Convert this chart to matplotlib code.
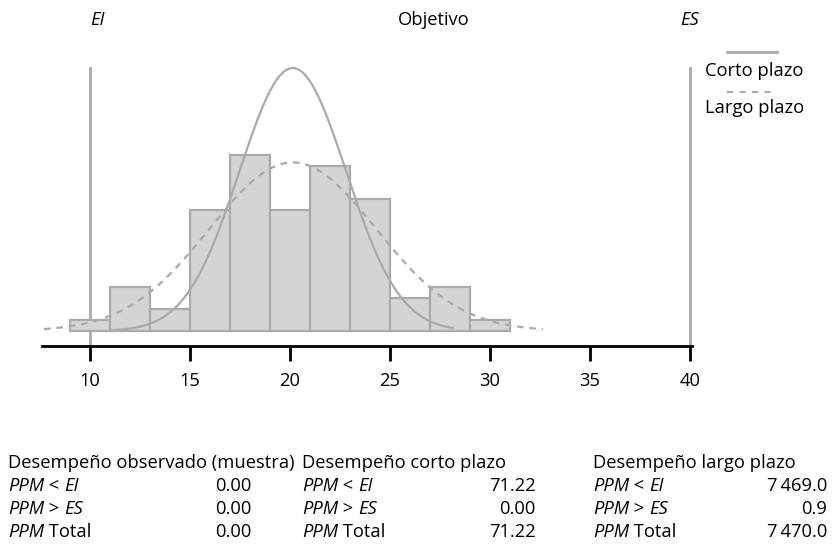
import numpy as np
import matplotlib.pyplot as plt
from matplotlib import offsetbox

# histogram data (bins of width 2, from 9 to 31)
bin_edges = [9, 11, 13, 15, 17, 19, 21, 23, 25, 27, 29, 31]
counts = [1, 4, 2, 11, 16, 11, 15, 12, 3, 4, 1]

# specification limits and fitted normal parameters
ei, es = 10, 40
mean = 20.14
sigma_short = 2.67
sigma_long = 4.166
short_range = (11.0, 28.15)
long_range = (7.7, 32.65)

ticks = [10, 15, 20, 25, 30, 35, 40]

# table at the bottom
headers = ["Desempeño observado (muestra)", "Desempeño corto plazo", "Desempeño largo plazo"]
row_labels = [("PPM", " < ", "EI"), ("PPM", " > ", "ES"), ("PPM", " Total", "")]
obs_vals = ["0.00", "0.00", "0.00"]
short_vals = ["71.22", "0.00", "71.22"]
long_vals = ["7\u2009469.0", "0.9", "7\u2009470.0"]

plt.rcParams['font.family'] = ['Open Sans', 'DejaVu Sans']
gray = "#aaaaaa"
fs = 13.2

fig = plt.figure(figsize=(8.35, 5.48), dpi=100)
ax = fig.add_axes([42 / 835, 1 - 346 / 548, 650 / 835, (346 - 67) / 548])

widths = np.diff(bin_edges)
ax.bar(bin_edges[:-1], counts, width=widths, align="edge",
       color="#d4d4d4", edgecolor=gray, linewidth=1.6, zorder=2)

n = sum(counts)
bw = widths[0]


def normal_curve(s, lo, hi):
    x = np.linspace(lo, hi, 200)
    y = n * bw / (s * np.sqrt(2 * np.pi)) * np.exp(-0.5 * ((x - mean) / s) ** 2)
    return x, y


xs, ys = normal_curve(sigma_short, *short_range)
ax.plot(xs, ys, color=gray, lw=1.6, zorder=3, clip_on=False)
xl, yl = normal_curve(sigma_long, *long_range)
ax.plot(xl, yl, color=gray, lw=1.6, ls=(0, (3, 2.6)), zorder=3, clip_on=False)

ax.axvline(ei, color=gray, lw=2, zorder=1)
ax.axvline(es, color=gray, lw=2, zorder=1)

ax.set_xlim(7.6, 40.1)
ax.set_ylim(-15 / 11, 264 / 11)
for side in ["top", "right", "left"]:
    ax.spines[side].set_visible(False)
ax.spines["bottom"].set_linewidth(2)
ax.set_yticks([])
ax.set_xticks(ticks)
ax.tick_params(axis="x", length=11, width=2, labelsize=fs, pad=8)
ax.set_facecolor("none")

# top labels
fig.text(97 / 835, 1 - 20 / 548, "EI", fontsize=fs, style="italic", ha="center", va="center")
fig.text(434 / 835, 1 - 20 / 548, "Objetivo", fontsize=fs, ha="center", va="center")
fig.text(690 / 835, 1 - 20 / 548, "ES", fontsize=fs, style="italic", ha="center", va="center")

# legend
fig.add_artist(plt.Line2D([727 / 835, 777 / 835], [1 - 52 / 548] * 2, color=gray, lw=2))
fig.text(705 / 835, 1 - 71 / 548, "Corto plazo", fontsize=fs, va="center")
fig.add_artist(plt.Line2D([727 / 835, 777 / 835], [1 - 92 / 548] * 2, color=gray, lw=1.5, ls=(0, (3, 3))))
fig.text(705 / 835, 1 - 108 / 548, "Largo plazo", fontsize=fs, va="center")

# table
col_x = [8, 302, 593]
val_x = [251, 536, 827]
row_y = [463, 486, 509, 532]
for cx, h in zip(col_x, headers):
    fig.text(cx / 835, 1 - row_y[0] / 548, h, fontsize=fs, va="center")
for cx, vx, vals in zip(col_x, val_x, [obs_vals, short_vals, long_vals]):
    for ry, (a, op, b), v in zip(row_y[1:], row_labels, vals):
        tb = offsetbox.HPacker(children=[
            offsetbox.TextArea(a, textprops=dict(fontsize=fs, style="italic")),
            offsetbox.TextArea(op, textprops=dict(fontsize=fs)),
            offsetbox.TextArea(b, textprops=dict(fontsize=fs, style="italic")),
        ], pad=0, sep=0)
        ab = offsetbox.AnchoredOffsetbox(loc="center left", child=tb, pad=0, borderpad=0,
                                         frameon=False, bbox_to_anchor=(cx / 835, 1 - ry / 548),
                                         bbox_transform=fig.transFigure)
        fig.add_artist(ab)
        fig.text(vx / 835, 1 - ry / 548, v, fontsize=fs, ha="right", va="center")

fig.savefig("out.png", dpi=100)
